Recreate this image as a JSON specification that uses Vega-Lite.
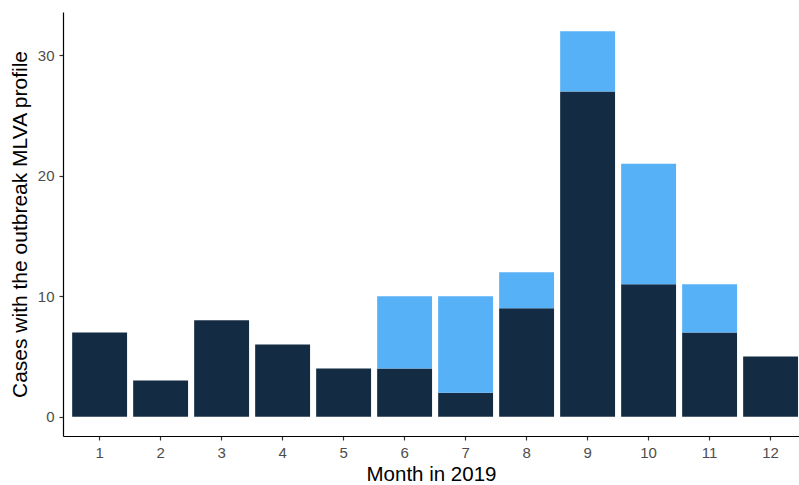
{
  "$schema": "https://vega.github.io/schema/vega-lite/v6.json",
  "width": 736,
  "height": 424,
  "autosize": {"type": "none"},
  "padding": {"left": 63, "top": 12, "right": 0, "bottom": 49},
  "background": "white",
  "config": {"view": {"stroke": null}, "font": "Liberation Sans"},
  "data": {"values": [
    {"month": 1, "group": "A", "count": 7},
    {"month": 2, "group": "A", "count": 3},
    {"month": 3, "group": "A", "count": 8},
    {"month": 4, "group": "A", "count": 6},
    {"month": 5, "group": "A", "count": 4},
    {"month": 6, "group": "A", "count": 4},
    {"month": 7, "group": "A", "count": 2},
    {"month": 8, "group": "A", "count": 9},
    {"month": 9, "group": "A", "count": 27},
    {"month": 10, "group": "A", "count": 11},
    {"month": 11, "group": "A", "count": 7},
    {"month": 12, "group": "A", "count": 5},
    {"month": 6, "group": "B", "count": 6},
    {"month": 7, "group": "B", "count": 8},
    {"month": 8, "group": "B", "count": 3},
    {"month": 9, "group": "B", "count": 5},
    {"month": 10, "group": "B", "count": 10},
    {"month": 11, "group": "B", "count": 4}
  ]},
  "mark": {"type": "bar"},
  "encoding": {
    "x": {
      "field": "month", "type": "ordinal",
      "scale": {"paddingInner": 0.1, "paddingOuter": 0.083, "align": 0.906},
      "axis": {
        "title": "Month in 2019", "labelAngle": 0,
        "domainColor": "black", "domainWidth": 1.2,
        "tickColor": "#333333", "tickSize": 4, "tickWidth": 1.2,
        "labelColor": "#4D4D4D", "labelFontSize": 15, "labelPadding": 5,
        "titleFontSize": 20.5, "titleFontWeight": "normal", "titleColor": "black", "titlePadding": 4
      }
    },
    "y": {
      "field": "count", "type": "quantitative", "stack": "zero",
      "scale": {"domain": [-1.6, 33.6], "nice": false, "zero": false},
      "axis": {
        "title": "Cases with the outbreak MLVA profile", "values": [0, 10, 20, 30], "grid": false,
        "domainColor": "black", "domainWidth": 1.2,
        "tickColor": "#333333", "tickSize": 4, "tickWidth": 1.2,
        "labelColor": "#4D4D4D", "labelFontSize": 15, "labelPadding": 5,
        "titleFontSize": 21, "titleFontWeight": "normal", "titleColor": "black", "titlePadding": 7
      }
    },
    "color": {
      "field": "group", "type": "nominal",
      "scale": {"domain": ["A", "B"], "range": ["#132B43", "#56B1F7"]},
      "legend": null
    },
    "order": {"field": "group", "type": "nominal", "sort": "ascending"}
  }
}
